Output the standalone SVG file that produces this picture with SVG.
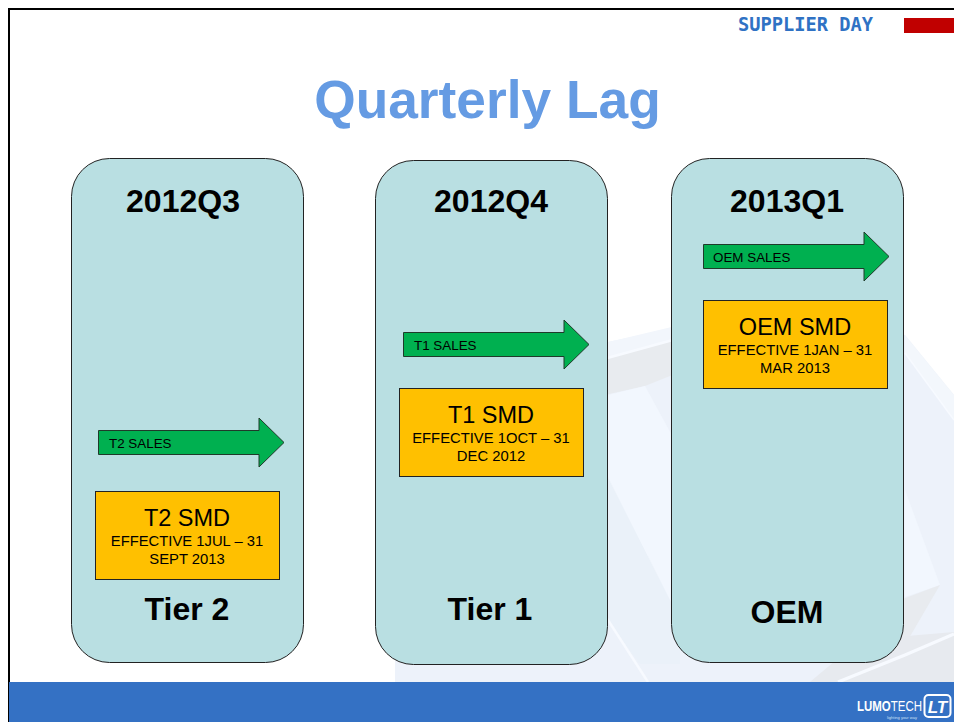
<svg xmlns="http://www.w3.org/2000/svg" width="954" height="722" viewBox="0 0 954 722">
<style>
text{font-family:"Liberation Sans",Arial,sans-serif;fill:#000;text-anchor:middle}
.col{fill:#b9dfe2;stroke:#222;stroke-width:1}
.smd{fill:#ffc000;stroke:#222;stroke-width:1}
.arr{fill:#00b050;stroke:#1f3a2a;stroke-width:1}
.hd{font-size:32px;font-weight:bold}
.t{font-size:23.500px}
.s{font-size:14.800px}
.a{font-size:13.400px;text-anchor:start}
.st{fill:none;stroke:#f7faff;stroke-width:2.500}
</style>
<rect width="954" height="722" fill="#fff"/>
<g id="background">
<path d="M395 682V600L608 342L760 310L905 335L954 395V682Z" fill="#edf2fa"/>
<path d="M600 344L680 325V340L600 360Z" fill="#f2f6fc"/>
<path d="M600 360L680 338V372L645 386L600 396Z" fill="#e8ebef"/>
<path d="M600 397L645 386L680 450V620L600 462Z" fill="#f2f7fe"/>
<path d="M600 462L680 620V664L640 664L600 610Z" fill="#eaf1f9"/>
<path class="st" d="M600 360L680 338"/>
<path class="st" d="M606 617L648 682"/>
<path d="M905 335L954 395V420L905 353Z" fill="#f3f7fc"/>
<path class="st" d="M905 353L954 420" style="stroke-width:1.500"/>
<path d="M905 490L940 585L905 597Z" fill="#f2f7fe"/>
<path d="M900 600L940 585L905 645H900Z" fill="#e8ebef"/>
<path d="M810 682L860 640L954 632V682Z" fill="#e7eaef"/>
<path class="st" d="M838 682L905 655L954 634" style="stroke-width:3"/>
</g>
<rect x="9" y="9" width="960" height="720" fill="none" stroke="#000" stroke-width="2"/>
<text x="805.500" y="31" style="font-family:'DejaVu Sans Mono','Liberation Mono',monospace;font-size:18.700px;font-weight:bold;fill:#2f72c4">SUPPLIER DAY</text>
<rect x="904" y="18" width="50" height="15" fill="#c00000"/>
<text x="487.500" y="118" style="font-size:53.300px;font-weight:bold;fill:#659be3">Quarterly Lag</text>
<g id="column-tier2">
<rect class="col" x="71.500" y="158.500" width="232" height="504" rx="38"/>
<text class="hd" x="183" y="212">2012Q3</text>
<text class="hd" x="187" y="620">Tier 2</text>
</g>
<g id="column-tier1">
<rect class="col" x="375.500" y="160.500" width="232" height="504" rx="38"/>
<text class="hd" x="491" y="212">2012Q4</text>
<text class="hd" x="490" y="620">Tier 1</text>
</g>
<g id="column-oem">
<rect class="col" x="671.500" y="158.500" width="232" height="504" rx="38"/>
<text class="hd" x="787" y="212">2013Q1</text>
<text class="hd" x="787" y="623">OEM</text>
</g>
<g id="connectors">
<path class="arr" d="M98.500 430.500H259V418L284 442.500L259 467V454.500H98.500Z"/>
<path class="arr" d="M403.500 332.500H564V320L589 344.500L564 369V356.500H403.500Z"/>
<path class="arr" d="M703.500 244.500H864V232L889 256.500L864 281V268.500H703.500Z"/>
<text class="a" x="109" y="448">T2 SALES</text>
<text class="a" x="414" y="350">T1 SALES</text>
<text class="a" x="713" y="262">OEM SALES</text>
</g>
<g id="smd-t2">
<rect class="smd" x="95.500" y="491.500" width="184" height="88"/>
<text class="t" x="187" y="526">T2 SMD</text>
<text class="s" x="187" y="546">EFFECTIVE 1JUL – 31</text>
<text class="s" x="187" y="564">SEPT 2013</text>
</g>
<g id="smd-t1">
<rect class="smd" x="399.500" y="388.500" width="184" height="88"/>
<text class="t" x="491" y="423">T1 SMD</text>
<text class="s" x="491" y="443">EFFECTIVE 1OCT – 31</text>
<text class="s" x="491" y="461">DEC 2012</text>
</g>
<g id="smd-oem">
<rect class="smd" x="703.500" y="300.500" width="184" height="88"/>
<text class="t" x="795" y="335">OEM SMD</text>
<text class="s" x="795" y="355">EFFECTIVE 1JAN – 31</text>
<text class="s" x="795" y="373">MAR 2013</text>
</g>
<rect x="9" y="682" width="945" height="40" fill="#3471c4"/>
<text transform="translate(857 711) scale(.82 1)" style="font-size:14px;fill:#fff;text-anchor:start"><tspan style="font-weight:bold;fill:#fff">LUMO</tspan><tspan style="fill:#fff">TECH</tspan></text>
<rect x="924.500" y="695" width="26" height="22" rx="4" fill="none" stroke="#fff" stroke-width="2"/>
<text x="937.500" y="713" style="font-size:17px;font-weight:bold;font-style:italic;fill:#fff">LT</text>
<text x="902" y="718.500" style="font-size:4px;fill:#cfe0f5">lighting your way</text>
</svg>
